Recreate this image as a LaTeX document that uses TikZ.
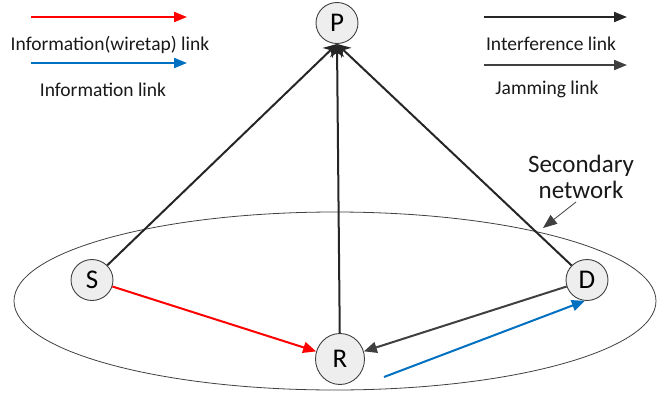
\documentclass[tikz,border=0pt]{standalone}
\usepackage{fontspec}
\setmainfont{Carlito}
\usetikzlibrary{arrows.meta,shapes.geometric,calc}
\definecolor{infored}{HTML}{FF0000}
\definecolor{infoblue}{HTML}{0070C0}
\definecolor{interf}{HTML}{262626}
\definecolor{jam}{HTML}{404040}
\definecolor{nodefill}{HTML}{EEEEEE}
\begin{document}
\begin{tikzpicture}[x=1pt,y=-1pt,
  terminal/.style={ellipse,draw=black!75,line width=0.9pt,fill=nodefill,
    minimum width=42pt,minimum height=41pt,inner sep=0pt,font=\fontsize{27}{27}\selectfont},
  legendtext/.style={font=\fontsize{19.5}{21}\selectfont,text=black!90},
  link/.style={line width=2pt},
  headbig/.style={-{Triangle[length=13pt,width=11pt]}},
  headtop/.style={-{Stealth[length=13pt,width=14pt,inset=4pt]}},
  headleg/.style={-{Triangle[length=13pt,width=10pt]}}]
\useasboundingbox (0,0) rectangle (657,394);

% secondary network boundary
\draw[black!75,line width=0.8pt] (335,301) ellipse [x radius=321, y radius=89];

% terminals
\node[terminal] (P) at (337,23) {P};
\node[terminal] (S) at (92,280) {S};
\node[terminal,minimum width=49pt,minimum height=51pt] (R) at (340,359) {R};
\node[terminal] (D) at (587,280) {D};

% interference links towards P
\draw[link,interf,headtop] (S) -- (P.south);
\draw[link,interf,headtop] (R) -- (P.south);
\draw[link,interf,headtop] (D) -- (P.south);

% wiretap, jamming and information links
\draw[link,infored,headbig] (S) -- (R);
\draw[link,jam,headbig] (D) -- (R);
\coordinate (blueStart) at (384,377);
\draw[link,infoblue,headbig] (blueStart) -- (D.-96);

% secondary network label
\node[font=\fontsize{25}{26}\selectfont,align=center,text=black!90] (secnet) at (581,177) {Secondary\\network};
\coordinate (secTip) at (543,228);
\draw[jam,line width=0.8pt,-{Triangle[length=14pt,width=11pt]}] (576,202) -- (secTip);

% legend
\coordinate (l1a) at (31,17); \coordinate (l1b) at (187,17);
\coordinate (l2a) at (31,63); \coordinate (l2b) at (187,63);
\coordinate (l3a) at (484,17); \coordinate (l3b) at (627,17);
\coordinate (l4a) at (484,65); \coordinate (l4b) at (627,65);
\draw[link,infored,headleg] (l1a) -- (l1b);
\draw[link,infoblue,headleg] (l2a) -- (l2b);
\draw[link,interf,headleg] (l3a) -- (l3b);
\draw[link,jam,headleg] (l4a) -- (l4b);
\node[legendtext] (t1) at (110,45) {Information(wiretap) link};
\node[legendtext] (t2) at (103,90) {Information link};
\node[legendtext] (t3) at (551,44) {Interference link};
\node[legendtext] (t4) at (547,89) {Jamming link};
\end{tikzpicture}
\end{document}
